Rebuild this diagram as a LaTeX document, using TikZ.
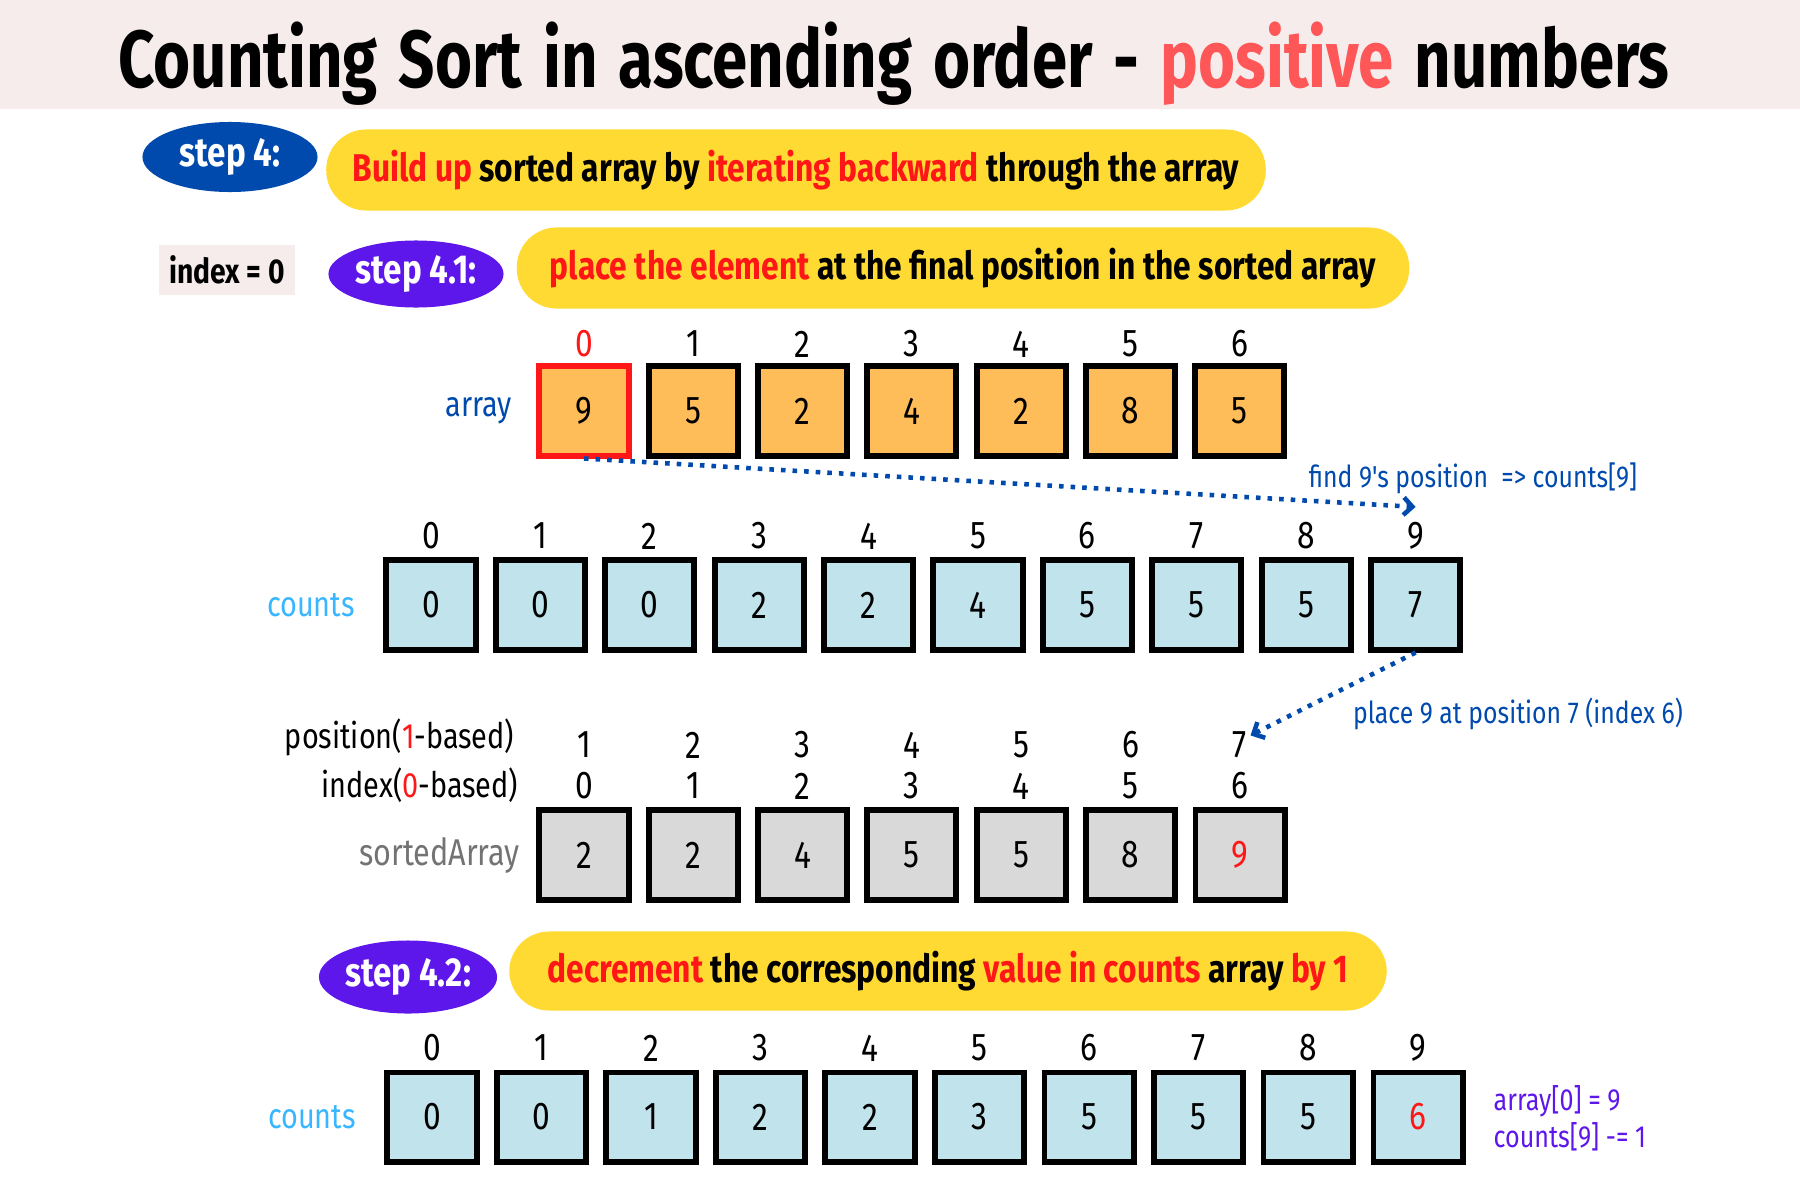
\documentclass[tikz,border=0pt]{standalone}
\usepackage{fontspec}
\setmainfont{Fira Sans}
\newfontfamily\titlefont{Fira Sans}[FakeStretch=0.785, WordSpace=1.4]
\newfontfamily\handfont{Fira Sans}[FakeStretch=0.82]
\usetikzlibrary{arrows.meta, shapes.geometric, positioning, calc}

\definecolor{bandpink}{HTML}{F6ECEC}
\definecolor{titlered}{HTML}{FF5757}
\definecolor{hotred}{HTML}{FF1616}
\definecolor{pillyellow}{HTML}{FFDA33}
\definecolor{stepblue}{HTML}{004AAD}
\definecolor{steppurple}{HTML}{5E17EB}
\definecolor{skyblue}{HTML}{38B6FF}
\definecolor{cellorange}{HTML}{FFBD59}
\definecolor{cellblue}{HTML}{C1E3EC}
\definecolor{cellgray}{HTML}{D9D9D9}
\definecolor{labelgray}{HTML}{737373}

\begin{document}
\begin{tikzpicture}[
    % Global options: pixel grid (y down), line width, font
    x=0.01cm, y=-0.01cm,
    line width=1.7pt,
    font=\handfont\fontsize{10}{12}\selectfont,
    cell/.style={draw=black, minimum size=0.89cm, inner sep=0pt,
      font=\handfont\fontsize{11}{13}\selectfont},
    idx/.style={inner sep=1pt, font=\handfont\fontsize{11}{13}\selectfont},
    stepball/.style={ellipse, minimum width=1.75cm, minimum height=0.7cm,
      inner sep=0pt, text=white, font=\handfont\bfseries\fontsize{11.5}{13}\selectfont},
    pill/.style={fill=pillyellow, rounded corners=0.4cm, minimum height=0.81cm,
      font=\handfont\bfseries\fontsize{11}{13}\selectfont},
    note/.style={text=stepblue, font=\handfont\fontsize{8.6}{10}\selectfont},
    ptr/.style={draw=stepblue, dotted, line width=1.3pt,
      -{Straight Barb[length=2.5pt, width=5pt]}},
  ]
    \useasboundingbox (0,0) rectangle (1800,1200);

    % --- Title band ---
    \fill[bandpink] (0,0) rectangle (1800,109);
    \node (title) at (894,64)
      {\titlefont\bfseries\fontsize{23}{27}\selectfont
       Counting Sort in ascending order - \textcolor{titlered}{positive} numbers};

    % --- Step 4 ---
    \node[stepball, fill=stepblue] (step4) at (230,157) {step 4:};
    \node[pill, minimum width=9.39cm] (pill4) at (796,170)
      {\textcolor{hotred}{Build up} sorted array by \textcolor{hotred}{iterating backward} through the array};

    % --- Step 4.1 ---
    \node[fill=bandpink, inner sep=3pt, minimum height=0.45cm,
      font=\handfont\bfseries\fontsize{9.8}{11}\selectfont] (curidx) at (227,270) {index = 0};
    \node[stepball, fill=steppurple, minimum height=0.67cm] (step41) at (416,274) {step 4.1:};
    \node[pill, minimum width=8.92cm] (pill41) at (963,268)
      {\textcolor{hotred}{place the element} at the final position in the sorted array};

    % --- Input array ---
    \node[cell, fill=cellorange, draw=hotred] (arr0) at (584,411) {9};
    \node[idx, text=hotred] (ai0) at (584,344) {0};
    \foreach \i/\v in {1/5, 2/2, 3/4, 4/2, 5/8, 6/5} {
      \node[cell, fill=cellorange] (arr\i) at (584+109.3*\i,411) {\v};
      \node[idx] (ai\i) at (584+109.3*\i,344) {\i};
    }
    \node[left=0.1cm of arr0, text=stepblue] (arrlbl) {array};

    % --- Counts array ---
    \foreach \i/\v in {0/0, 1/0, 2/0, 3/2, 4/2, 5/4, 6/5, 7/5, 8/5, 9/7} {
      \node[cell, fill=cellblue] (cnt\i) at (431+109.4*\i,605) {\v};
      \node[idx] (ci\i) at (431+109.4*\i,536) {\i};
    }
    \node[left=0.14cm of cnt0, text=skyblue] (cntlbl) {counts};

    \draw[ptr] (arr0.south) -- ($(ci9.north)+(0,-9)$);
    \node[note] (findnote) at (1473,478) {find 9's position \ => counts[9]};

    % --- Sorted array ---
    \foreach \i/\v in {0/2, 1/2, 2/4, 3/5, 4/5, 5/8} {
      \node[cell, fill=cellgray] (srt\i) at (584+109.3*\i,855) {\v};
      \node[idx] (si\i) at (584+109.3*\i,786) {\i};
      \node[idx] (pp\i) at (584+109.3*\i,745) {\pgfmathtruncatemacro\p{\i+1}\p};
    }
    \node[cell, fill=cellgray, text=hotred] (srt6) at (1240,855) {9};
    \node[idx] (si6) at (1240,786) {6};
    \node[idx] (pp6) at (1240,745) {7};
    \node[left=0.02cm of srt0, text=labelgray, font=\handfont\fontsize{10.6}{12}\selectfont] (srtlbl) {sortedArray};
    \node[anchor=east] (poslbl) at (529,737) {position(\textcolor{hotred}{1}-based)};
    \node[anchor=east] (idxlbl) at (533,785) {index(\textcolor{hotred}{0}-based)};

    \draw[ptr] (cnt9.south) -- ($(pp6.north east)+(-3,10)$);
    \node[note] (placenote) at (1518,714) {place 9 at position 7 (index 6)};

    % --- Step 4.2 ---
    \node[stepball, fill=steppurple, minimum height=0.73cm] (step42) at (408,977) {step 4.2:};
    \node[pill, minimum width=8.77cm, minimum height=0.79cm] (pill42) at (948,971)
      {\textcolor{hotred}{decrement} the corresponding \textcolor{hotred}{value in counts} array \textcolor{hotred}{by 1}};

    % --- Counts after decrement ---
    \foreach \i/\v in {0/0, 1/0, 2/1, 3/2, 4/2, 5/3, 6/5, 7/5, 8/5} {
      \node[cell, fill=cellblue] (dec\i) at (432+109.5*\i,1117) {\v};
      \node[idx] (di\i) at (432+109.5*\i,1048) {\i};
    }
    \node[cell, fill=cellblue, text=hotred] (dec9) at (1418,1117) {6};
    \node[idx] (di9) at (1418,1048) {9};
    \node[left=0.14cm of dec0, text=skyblue] (declbl) {counts};
    \node[note, text=steppurple, anchor=west, align=left,
      font=\handfont\fontsize{8.7}{10.5}\selectfont] (decnote) at (1479,1118)
      {array[0] = 9\\counts[9] -= 1};
  \end{tikzpicture}
\end{document}
